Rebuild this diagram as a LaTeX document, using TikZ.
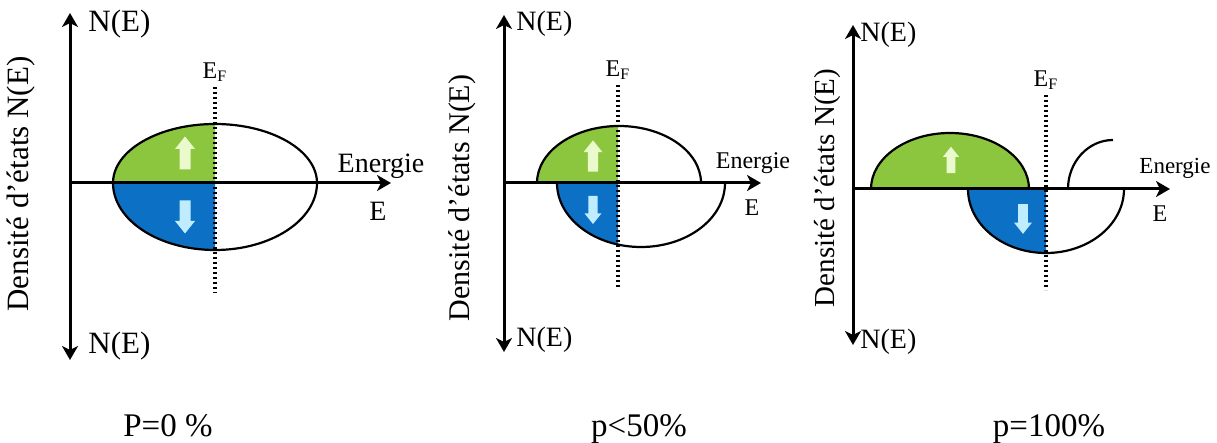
\documentclass[tikz,border=0pt]{standalone}
\usepackage{fontspec}
\setmainfont{Liberation Serif}
\usetikzlibrary{arrows.meta}
\definecolor{upgreen}{RGB}{140,198,63}
\definecolor{dnblue}{RGB}{12,112,196}
\definecolor{upfill}{RGB}{234,250,204}
\definecolor{dnfill}{RGB}{192,236,255}

\begin{document}
\begin{tikzpicture}[x=0.5pt, y=-0.5pt,
	vaxis/.style={line width=1.5pt, {Stealth[length=7pt,width=8pt,inset=2pt]}-{Stealth[length=7pt,width=8pt,inset=2pt]}},
	haxis/.style={line width=1.5pt, -{Stealth[length=7pt,width=8pt,inset=2pt]}},
	band/.style={line width=1.1pt},
	fermi/.style={line width=1.6pt, dash pattern=on 1.2pt off 1.3pt},
	lbl/.style={font=\fontsize{#1}{#1}\selectfont},
	spin/.pic={\fill[#1] (-5.5,16.5) -- (-5.5,-4) -- (-10,-4) -- (0,-16.5) -- (10,-4) -- (5.5,-4) -- (5.5,16.5) -- cycle;}]
	\useasboundingbox (0,0) rectangle (1217,443);
	% axes of the three panels
	\foreach \n/\ox/\oy/\ty/\by/\ex in {1/70/183/13/360/391, 2/504/183/15/352/761, 3/853/189/25/345/1170} {
		\coordinate (o\n) at (\ox,\oy); \coordinate (t\n) at (\ox,\ty);
		\coordinate (b\n) at (\ox,\by); \coordinate (e\n) at (\ex,\oy);
	}
	\foreach \n/\fx/\fa/\fb in {1/215/87/293, 2/618/85/287, 3/1046/95/290} {
		\coordinate (fa\n) at (\fx,\fa); \coordinate (fb\n) at (\fx,\fb);
	}

	% P=0 %
	\fill[upgreen] (113,183) arc[start angle=180, end angle=270, x radius=102, y radius=59] -- (215,183) -- cycle;
	\fill[dnblue] (113,183) arc[start angle=180, end angle=90, x radius=102, y radius=67] -- (215,183) -- cycle;
	\draw[band] (113,183) arc[start angle=180, end angle=360, x radius=102, y radius=59];
	\draw[band] (113,183) arc[start angle=180, end angle=0, x radius=102, y radius=67];
	\pic at (185,153) {spin=upfill};
	\pic[rotate=180] at (185,217) {spin=dnfill};

	% p<50%
	\begin{scope}
		\clip (520,100) rectangle (618,270);
		\fill[upgreen] (537,183) arc[start angle=180, end angle=360, x radius=82, y radius=57] -- cycle;
		\fill[dnblue] (557,183) arc[start angle=180, end angle=0, x radius=84, y radius=64] -- cycle;
	\end{scope}
	\draw[band] (537,183) arc[start angle=180, end angle=360, x radius=82, y radius=57];
	\draw[band] (557,183) arc[start angle=180, end angle=0, x radius=84, y radius=64];
	\pic[scale=0.95] at (593,156) {spin=upfill};
	\pic[scale=0.85, rotate=180] at (593,210) {spin=dnfill};

	% p=100%
	\fill[upgreen] (871,189) arc[start angle=180, end angle=360, x radius=79, y radius=56] -- cycle;
	\fill[dnblue] (968,189) arc[start angle=180, end angle=90, x radius=78, y radius=64] -- (1046,189) -- cycle;
	\draw[band] (871,189) arc[start angle=180, end angle=360, x radius=79, y radius=56];
	\draw[band] (968,189) arc[start angle=180, end angle=0, x radius=78, y radius=64];
	\draw[band] (1068,189) arc[start angle=180, end angle=270, x radius=45, y radius=49];
	\pic[scale=0.8] at (951,160) {spin=upfill};
	\pic[scale=0.9, rotate=180] at (1023,219) {spin=dnfill};

	\foreach \n in {1,2,3} {
		\draw[vaxis] (t\n) -- (b\n);
		\draw[haxis] (o\n) -- (e\n);
		\draw[fermi] (fa\n) -- (fb\n);
		\node[lbl=12, above=-1pt] (ef\n) at (fa\n) {E\textsubscript{F}};
	}

	% labels
	\node[lbl=15.5, anchor=west, inner sep=0pt] (nt1) at (88,24) {N(E)};
	\node[lbl=15.5, anchor=west, inner sep=0pt] (nb1) at (88,346) {N(E)};
	\node[lbl=15.5, rotate=90] (dos1) at (21,184) {Densité d’états N(E)};
	\node[lbl=14] (en1) at (381,166) {Energie};
	\node[lbl=14] (ex1) at (378,211) {E};

	\node[lbl=14, anchor=west, inner sep=0pt] (nt2) at (516,24) {N(E)};
	\node[lbl=14, anchor=west, inner sep=0pt] (nb2) at (516,340) {N(E)};
	\node[lbl=15, rotate=90] (dos2) at (462,198) {Densité d’états N(E)};
	\node[lbl=12] (en2) at (753,163) {Energie};
	\node[lbl=12] (ex2) at (752,208) {E};

	\node[lbl=14, anchor=west, inner sep=0pt] (nt3) at (860,35) {N(E)};
	\node[lbl=14, anchor=west, inner sep=0pt] (nb3) at (860,342) {N(E)};
	\node[lbl=14.5, rotate=90] (dos3) at (827,188) {Densité d’états N(E)};
	\node[lbl=11.5] (en3) at (1175,168) {Energie};
	\node[lbl=12] (ex3) at (1160,214) {E};

	% captions
	\node[lbl=16.5, anchor=base] (cap1) at (168,437) {P=0 \%};
	\node[lbl=16.5, anchor=base] (cap2) at (639,437) {p<50\%};
	\node[lbl=16.5, anchor=base] (cap3) at (1049,437) {p=100\%};
\end{tikzpicture}
\end{document}
